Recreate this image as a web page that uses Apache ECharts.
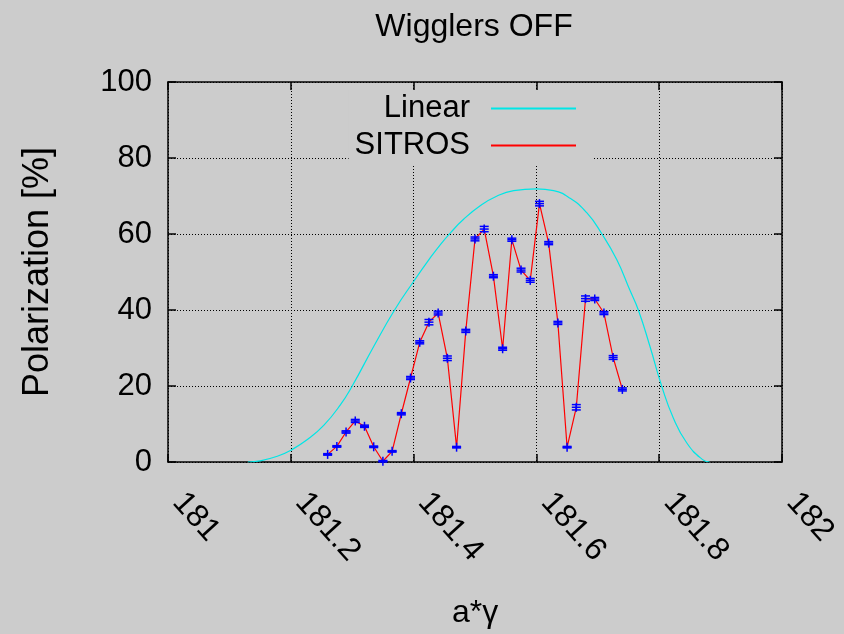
<!DOCTYPE html>
<html>
<head>
<meta charset="utf-8">
<script src="https://cdn.jsdelivr.net/npm/echarts@6/dist/echarts.min.js"></script>
<style>
  html, body { margin: 0; padding: 0; background: #cccccc; }
  #chart { width: 844px; height: 634px; }
</style>
</head>
<body>
<div id="chart"></div>
<script>
// Axis ticks
const xTicks = [181, 181.2, 181.4, 181.6, 181.8, 182];
const yTicks = [0, 20, 40, 60, 80, 100];

// Linear theory curve
const linearX = [181.13, 181.15, 181.178, 181.2, 181.227, 181.254, 181.281, 181.3, 181.335, 181.369,
  181.4, 181.427, 181.443, 181.46, 181.481, 181.509, 181.536, 181.563, 181.6, 181.628, 181.655,
  181.682, 181.706, 181.731, 181.752, 181.766, 181.785, 181.804, 181.823, 181.845, 181.87, 181.882];
const linearY = [0, 0.3, 1.5, 3.1, 5.9, 9.7, 15.1, 20, 30.4, 40,
  47.5, 53.7, 57.1, 60.3, 63.8, 67.5, 70, 71.4, 71.9, 71.4, 69.4,
  65.6, 60.2, 53.2, 45.3, 40, 30.4, 20, 11.6, 5.0, 0.7, 0];

// SITROS tracking results with statistical errors
const sitrosX = [181.260, 181.275, 181.290, 181.305, 181.320, 181.335, 181.350, 181.365, 181.380, 181.395,
  181.410, 181.425, 181.440, 181.455, 181.470, 181.485, 181.500, 181.515, 181.530, 181.545,
  181.560, 181.575, 181.590, 181.605, 181.620, 181.635, 181.650, 181.665, 181.680, 181.695,
  181.710, 181.725, 181.740];
const sitrosY = [2.0, 4.1, 7.9, 10.8, 9.4, 4.0, 0.2, 2.8, 12.7, 22.1,
  31.5, 36.8, 39.2, 27.3, 3.9, 34.5, 58.7, 61.3, 48.9, 29.8,
  58.5, 50.5, 47.8, 68.0, 57.6, 36.6, 3.9, 14.4, 43.0, 42.9,
  39.2, 27.5, 19.1];
const sitrosErr = [0.2, 0.2, 0.3, 0.4, 0.3, 0.2, 0.2, 0.2, 0.3, 0.4,
  0.4, 0.7, 0.5, 0.6, 0.2, 0.4, 0.5, 0.7, 0.4, 0.4,
  0.4, 0.5, 0.5, 0.6, 0.4, 0.4, 0.2, 0.7, 0.7, 0.4,
  0.4, 0.5, 0.4];

const FONT = 'Liberation Sans, Arial, Helvetica, sans-serif';
const linearData = linearX.map((x, i) => [x, linearY[i]]);
const sitrosData = sitrosX.map((x, i) => [x, sitrosY[i]]);
const errData = sitrosX.map((x, i) => [x, sitrosY[i], sitrosErr[i]]);

const fmt = v => String(Math.round(v * 10) / 10);

const chart = echarts.init(document.getElementById('chart'), null, { renderer: 'canvas' });

const baseX = {
  type: 'value',
  min: xTicks[0], max: xTicks[xTicks.length - 1], interval: 0.2,
  axisLine: { show: true, onZero: false, lineStyle: { color: '#000', width: 1.5 } },
  axisTick: { show: true, inside: true, length: 8, lineStyle: { color: '#000', width: 1.5 } },
  splitLine: { show: false }
};
const baseY = {
  type: 'value',
  min: yTicks[0], max: yTicks[yTicks.length - 1], interval: 20,
  axisLine: { show: true, onZero: false, lineStyle: { color: '#000', width: 1.5 } },
  axisTick: { show: true, inside: true, length: 8, lineStyle: { color: '#000', width: 1.5 } },
  splitLine: { show: false }
};

chart.setOption({
  backgroundColor: '#cccccc',
  animation: false,
  title: {
    text: 'Wigglers OFF',
    left: 469, top: 6, textAlign: 'center',
    textStyle: { fontFamily: FONT, fontSize: 32, fontWeight: 'normal', color: '#000' }
  },
  legend: {
    orient: 'vertical',
    right: 251, top: 90,
    align: 'right',
    itemWidth: 85, itemHeight: 2, itemGap: 6,
    padding: [3, 17, 3, 6],
    backgroundColor: '#cccccc',
    icon: 'rect',
    textStyle: { fontFamily: FONT, fontSize: 31, color: '#000', lineHeight: 31, padding: [0, 16, 0, 0] },
    data: [
      { name: 'Linear', itemStyle: { color: '#00e6e6' } },
      { name: 'SITROS', itemStyle: { color: '#ff0000' } }
    ]
  },
  grid: { left: 168, top: 82, right: 62, bottom: 171, containLabel: false },
  xAxis: [
    Object.assign({}, baseX, {
      position: 'bottom',
      name: 'a*γ', nameLocation: 'middle', nameGap: 135,
      nameTextStyle: { fontFamily: FONT, fontSize: 32, color: '#000' },
      axisLabel: { show: true, rotate: -48, margin: 24, formatter: fmt,
        padding: [0, 0, 0, 15],
        fontFamily: FONT, fontSize: 32, color: '#000' },
      splitLine: { show: true, lineStyle: { color: '#000', width: 1, type: [1, 2] } }
    }),
    Object.assign({}, baseX, { position: 'top', axisLabel: { show: false } })
  ],
  yAxis: [
    Object.assign({}, baseY, {
      position: 'left',
      name: 'Polarization [%]', nameLocation: 'middle', nameGap: 112,
      nameTextStyle: { fontFamily: FONT, fontSize: 36, color: '#000' },
      axisLabel: { show: true, margin: 16, fontFamily: FONT, fontSize: 31, color: '#000' },
      splitLine: { show: true, lineStyle: { color: '#000', width: 1, type: [1, 2] } }
    }),
    Object.assign({}, baseY, { position: 'right', axisLabel: { show: false } })
  ],
  series: [
    {
      name: 'Linear', type: 'line', data: linearData,
      smooth: 0.5, showSymbol: false, symbol: 'none',
      lineStyle: { color: '#00e6e6', width: 1.2 }, itemStyle: { color: '#00e6e6' },
      z: 2
    },
    {
      name: 'SITROS', type: 'line', data: sitrosData,
      showSymbol: false, symbol: 'none',
      lineStyle: { color: '#ff0000', width: 1.2 }, itemStyle: { color: '#ff0000' },
      z: 3
    },
    {
      name: 'SITROS', type: 'custom', data: errData,
      encode: { x: 0, y: 1 },
      z: 4,
      renderItem: function (params, api) {
        const x = api.value(0), y = api.value(1), e = api.value(2);
        const c = api.coord([x, y]);
        const lo = api.coord([x, y - e]);
        const hi = api.coord([x, y + e]);
        const h = 4.5;
        const st = { stroke: '#0000ff', lineWidth: 1.5, fill: null };
        return {
          type: 'group',
          children: [
            { type: 'line', shape: { x1: c[0] - h, y1: c[1], x2: c[0] + h, y2: c[1] }, style: st },
            { type: 'line', shape: { x1: c[0], y1: c[1] - h, x2: c[0], y2: c[1] + h }, style: st },
            { type: 'line', shape: { x1: lo[0], y1: lo[1], x2: hi[0], y2: hi[1] }, style: st },
            { type: 'line', shape: { x1: lo[0] - h, y1: lo[1], x2: lo[0] + h, y2: lo[1] }, style: st },
            { type: 'line', shape: { x1: hi[0] - h, y1: hi[1], x2: hi[0] + h, y2: hi[1] }, style: st }
          ]
        };
      }
    }
  ]
});
</script>
</body>
</html>
